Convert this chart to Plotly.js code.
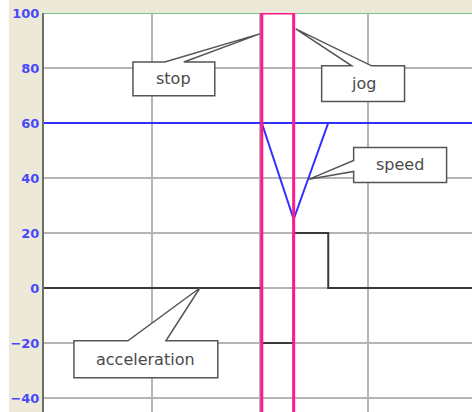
<!DOCTYPE html>
<html>
<head>
<meta charset="utf-8">
<script src="https://cdn.plot.ly/plotly-3.0.1.min.js"></script>
<style>
  html, body { margin: 0; padding: 0; background: #ffffff; }
  #plot { width: 472px; height: 412px; }
</style>
</head>
<body>
<div id="plot"></div>
<script>
// time axis (one grid cell = 1 unit)
let speedX = [0, 2.015, 2.31, 2.63, 3.96];
let speedY = [60, 60, 25, 60, 60];

let setX = [0, 3.96];
let setY = [60, 60];

let accelX = [0, 2.015, 2.31, 2.63, 3.96];
let accelY = [0, -20, 20, 0, 0];

let topX = [0, 3.96];
let topY = [100, 100];

// stop / jog markers
let stopAt = 2.015;
let jogAt = 2.31;

let yTicks = [-40, -20, 0, 20, 40, 60, 80, 100];

// callout boxes: box [x0, x1, yTop, yBottom], pointer tip, wedge base
let callouts = [
  {text: "stop", box: [0.823, 1.58, 82.2, 69.9], tip: [1.996, 92.4], side: "top", base: [1.118, 1.294]},
  {text: "jog", box: [2.569, 3.336, 80.8, 67.8], tip: [2.329, 94.2], side: "top", base: [2.847, 3.031]},
  {text: "speed", box: [2.865, 3.725, 51.1, 38.4], tip: [2.449, 39.5], side: "left", base: [46.4, 42.4]},
  {text: "acceleration", box: [0.277, 1.608, -19.2, -32.6], tip: [1.442, 0], side: "top", base: [0.776, 1.128]}
];

let traces = [
  {x: topX, y: topY, mode: "lines", line: {color: "#7cc28e", width: 2}, hoverinfo: "skip"},
  {x: setX, y: setY, mode: "lines", line: {color: "#3030ff", width: 2}},
  {x: speedX, y: speedY, mode: "lines", line: {color: "#3030ff", width: 2}},
  {x: accelX, y: accelY, mode: "lines", line: {color: "#3a3a3a", width: 2, shape: "hv"}}
];

function calloutPath(c) {
  let [x0, x1, yt, yb] = c.box;
  let [tx, ty] = c.tip;
  if (c.side == "top") {
    return `M ${x0},${yt} L ${c.base[0]},${yt} L ${tx},${ty} L ${c.base[1]},${yt} L ${x1},${yt} L ${x1},${yb} L ${x0},${yb} Z`;
  }
  return `M ${x0},${yt} L ${x1},${yt} L ${x1},${yb} L ${x0},${yb} L ${x0},${c.base[1]} L ${tx},${ty} L ${x0},${c.base[0]} Z`;
}

let shapes = [
  // white strip at far left of the window
  {type: "rect", xref: "paper", yref: "paper", x0: -0.103, x1: -0.082, y0: -0.1, y1: 1.1,
   fillcolor: "#ffffff", line: {width: 0}, layer: "below"},
  // stop / jog marker band
  {type: "rect", xref: "x", yref: "y", x0: stopAt, x1: jogAt, y0: -60, y1: 100,
   line: {color: "#ff1a8c", width: 3}, fillcolor: "rgba(0,0,0,0)", layer: "above"}
];

let annotations = [];
callouts.forEach(c => {
  shapes.push({type: "path", xref: "x", yref: "y", path: calloutPath(c),
    fillcolor: "#ffffff", line: {color: "#555555", width: 1.5}, layer: "above"});
  annotations.push({x: (c.box[0] + c.box[1]) / 2, y: (c.box[2] + c.box[3]) / 2,
    xref: "x", yref: "y", text: c.text, showarrow: false,
    font: {family: "DejaVu Sans, sans-serif", size: 16, color: "#4a4a4a"}});
});

let layout = {
  width: 472,
  height: 412,
  margin: {l: 44, r: 0, t: 13, b: 0},
  paper_bgcolor: "#ece9d8",
  plot_bgcolor: "#ffffff",
  showlegend: false,
  xaxis: {
    range: [0, 3.96], dtick: 1, tick0: 0,
    showticklabels: false, ticks: "",
    showgrid: true, gridcolor: "#b8b4b4", gridwidth: 1.5,
    zeroline: false, showline: false
  },
  yaxis: {
    range: [-45.1, 100], tickvals: yTicks, ticks: "",
    showgrid: true, gridcolor: "#b8b4b4", gridwidth: 1.5,
    zeroline: false, showline: true, linecolor: "#6e6e6e", linewidth: 2,
    ticklabelstandoff: 0,
    tickfont: {family: "DejaVu Sans, sans-serif", size: 13, color: "#4848f8", weight: "bold"}
  },
  shapes: shapes,
  annotations: annotations
};

Plotly.newPlot("plot", traces, layout, {staticPlot: true});
</script>
</body>
</html>
